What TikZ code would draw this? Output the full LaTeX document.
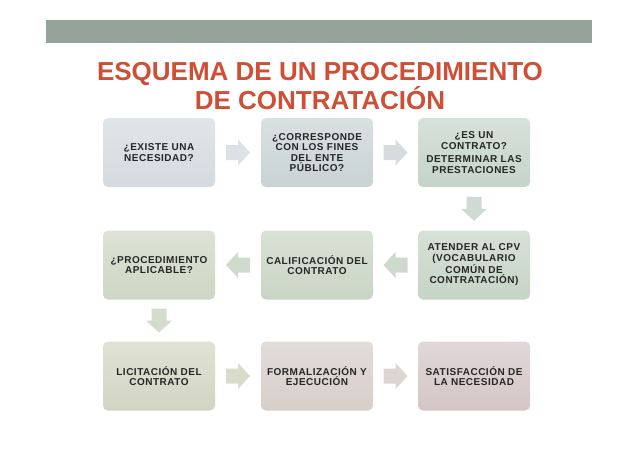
\documentclass[tikz,border=0pt]{standalone}
\usepackage{fontspec}
\setmainfont{Liberation Sans}
\usetikzlibrary{calc}
\definecolor{barcol}{HTML}{95A39B}
\definecolor{titlecol}{HTML}{CF4F36}
\definecolor{txtcol}{HTML}{262626}
\definecolor{cA}{HTML}{D4DADF}
\definecolor{cB}{HTML}{C9D3D4}
\definecolor{cC}{HTML}{C5D4CA}
\definecolor{cD}{HTML}{C6D4C5}
\definecolor{cE}{HTML}{C9D5C4}
\definecolor{cF}{HTML}{CED6C4}
\definecolor{cG}{HTML}{D2D5C2}
\definecolor{cH}{HTML}{D6CEC9}
\definecolor{cI}{HTML}{D4C6C7}
\tikzset{
  stepbox/.style={rounded corners=5pt, minimum width=112pt, minimum height=69pt,
    inner sep=2pt, align=center, text=txtcol,
    font=\fontsize{10}{10.5}\selectfont\bfseries\addfontfeature{LetterSpace=5},
    top color=#1!70!white, bottom color=#1},
  blockarrow/.pic={\path[pic actions] (-12,-7.5) -- (0,-7.5) -- (0,-13) -- (12,0) -- (0,13) -- (0,7.5) -- (-12,7.5) -- cycle;}
}
\begin{document}
\begin{tikzpicture}[x=1pt,y=-1pt]
\useasboundingbox (0,0) rectangle (638,451);
\fill[barcol] (46,20) rectangle (592,43);
\node[text=titlecol, align=center, font=\fontsize{26}{28}\selectfont\bfseries] (title) at (320,86)
  {ESQUEMA DE UN PROCEDIMIENTO\\DE CONTRATACIÓN};
% row 1
\node[stepbox=cA] (b1) at (159,152.5) {¿EXISTE UNA\\NECESIDAD?};
\node[stepbox=cB] (b2) at (317,152.5) {¿CORRESPONDE\\CON LOS FINES\\DEL ENTE\\PÚBLICO?};
\node[stepbox=cC] (b3) at (474,152.5) {¿ES UN\\CONTRATO?\\[3pt]DETERMINAR LAS\\PRESTACIONES};
% row 2
\node[stepbox=cD] (b4) at (474,265) {ATENDER AL CPV\\(VOCABULARIO\\COMÚN DE\\CONTRATACIÓN)};
\node[stepbox=cE] (b5) at (317,265) {CALIFICACIÓN DEL\\CONTRATO};
\node[stepbox=cF] (b6) at (159,265) {¿PROCEDIMIENTO\\APLICABLE?};
% row 3
\node[stepbox=cG] (b7) at (159,376) {LICITACIÓN DEL\\CONTRATO};
\node[stepbox=cH] (b8) at (317,376) {FORMALIZACIÓN Y\\EJECUCIÓN};
\node[stepbox=cI] (b9) at (474,376) {SATISFACCIÓN DE\\LA NECESIDAD};
% arrows
\pic[fill=cA!80!white] at ($(b1.east)!0.5!(b2.west)$) {blockarrow};
\pic[fill=cB!80!white] at ($(b2.east)!0.5!(b3.west)$) {blockarrow};
\pic[fill=cC!85!white, rotate=-90] at ($(b3.south)!0.5!(b4.north)$) {blockarrow};
\pic[fill=cD!85!white, rotate=180] at ($(b4.west)!0.5!(b5.east)$) {blockarrow};
\pic[fill=cE!85!white, rotate=180] at ($(b5.west)!0.5!(b6.east)$) {blockarrow};
\pic[fill=cF!85!white, rotate=-90] at ($(b6.south)!0.5!(b7.north)$) {blockarrow};
\pic[fill=cG!85!white] at ($(b7.east)!0.5!(b8.west)$) {blockarrow};
\pic[fill=cH!85!white] at ($(b8.east)!0.5!(b9.west)$) {blockarrow};
\end{tikzpicture}
\end{document}
